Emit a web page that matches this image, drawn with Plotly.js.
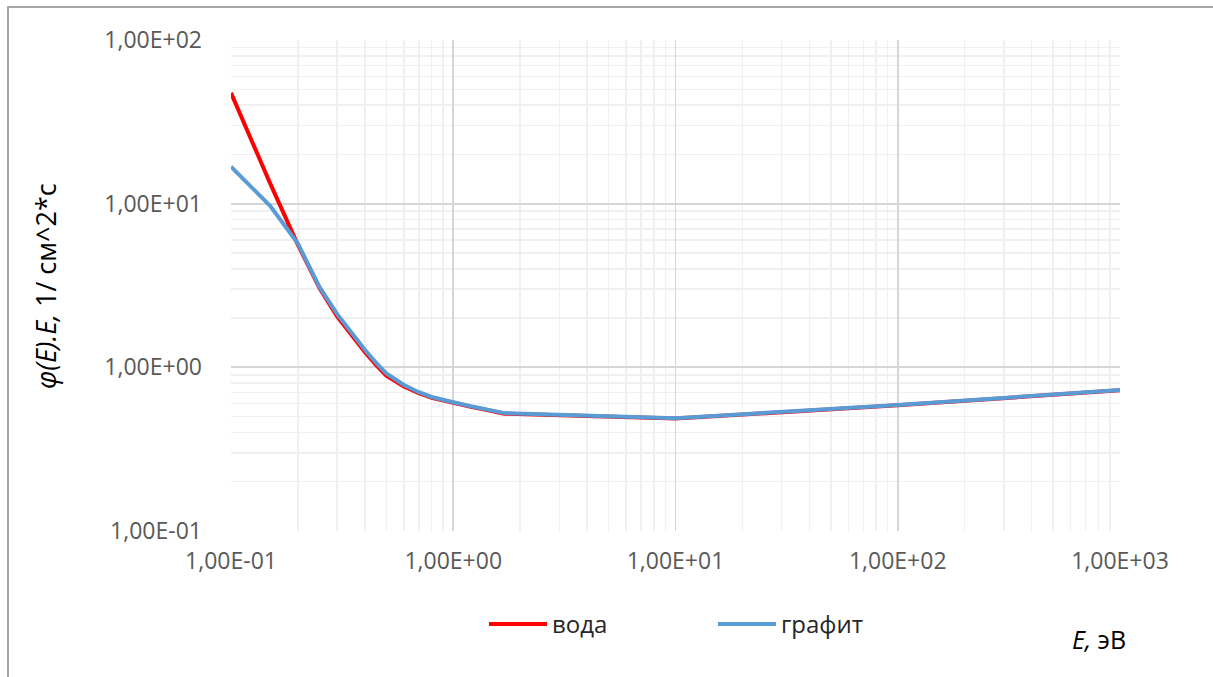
<!DOCTYPE html>
<html>
<head>
<meta charset="utf-8">
<script src="https://cdn.plot.ly/plotly-3.0.1.min.js"></script>
<style>
  html, body { margin: 0; padding: 0; background: #fff; overflow: hidden; }
  #frame { position: absolute; left: 7px; top: 6px; width: 1300px; height: 800px;
           border-left: 2px solid #a6a6a6; border-top: 2px solid #a6a6a6; pointer-events: none; z-index: 5; }
  #chart { position: absolute; left: 0; top: 0; width: 1213px; height: 677px; }
</style>
</head>
<body>
<div id="chart"></div>
<div id="frame"></div>
<script>
// Energy, eV
const energy = [0.1, 0.15, 0.2, 0.25, 0.3, 0.35, 0.4, 0.45, 0.5, 0.6, 0.7, 0.8, 0.9, 1.0, 1.2, 1.4, 1.7, 10, 100, 1000];
// φ(E)·E for water
const water = [47.5, 13.3, 5.6, 3.05, 2.05, 1.55, 1.24, 1.03, 0.89, 0.765, 0.695, 0.652, 0.626, 0.607, 0.574, 0.55, 0.521, 0.486, 0.586, 0.724];
// φ(E)·E for graphite
const graphite = [16.8, 9.7, 5.7, 3.1, 2.12, 1.60, 1.28, 1.064, 0.918, 0.78, 0.705, 0.659, 0.631, 0.612, 0.578, 0.553, 0.525, 0.489, 0.588, 0.726];

const xTickVals = [0.1, 1, 10, 100, 1000];
const xTickText = ['1,00E-01', '1,00E+00', '1,00E+01', '1,00E+02', '1,00E+03'];
const yTickVals = [0.1, 1, 10, 100];
const yTickText = ['1,00E-01', '1,00E+00', '1,00E+01', '1,00E+02'];

const FONT = 'Open Sans, Noto Sans, sans-serif';

const traces = [
  { x: energy, y: water, name: 'вода', type: 'scatter', mode: 'lines',
    line: { color: '#ff0000', width: 4 } },
  { x: energy, y: graphite, name: 'графит', type: 'scatter', mode: 'lines',
    line: { color: '#5b9bd5', width: 4 } }
];

const layout = {
  width: 1213, height: 677,
  margin: { l: 231, r: 93, t: 40, b: 146 },
  paper_bgcolor: 'rgba(0,0,0,0)', plot_bgcolor: '#fff',
  font: { family: FONT, size: 23, color: '#595959' },
  showlegend: true,
  legend: {
    orientation: 'h', x: (484 - 231) / 889, xanchor: 'left', y: -0.19, yanchor: 'middle',
    font: { family: FONT, size: 24, color: '#262626' },
    itemwidth: 58,
    entrywidth: 156, entrywidthmode: 'pixels', bgcolor: 'rgba(0,0,0,0)'
  },
  xaxis: {
    type: 'log', range: [-1, 3],
    tickmode: 'array', tickvals: xTickVals, ticktext: xTickText,
    ticks: '', ticklabelstandoff: 14,
    showgrid: true, gridcolor: '#d6d6d6', gridwidth: 1.8,
    zeroline: false, showline: false,
    minor: { dtick: 'D1', showgrid: true, gridcolor: '#f0f0f0', gridwidth: 1.5, ticks: '' },
    tickfont: { family: FONT, size: 23, color: '#595959' }
  },
  yaxis: {
    type: 'log', range: [-1, 2],
    tickmode: 'array', tickvals: yTickVals, ticktext: yTickText,
    ticks: '', ticklabelstandoff: 28,
    showgrid: true, gridcolor: '#d6d6d6', gridwidth: 1.8,
    zeroline: false, showline: false,
    minor: { dtick: 'D1', showgrid: true, gridcolor: '#f0f0f0', gridwidth: 1.5, ticks: '' },
    tickfont: { family: FONT, size: 23, color: '#595959' }
  },
  annotations: [
    { xref: 'paper', yref: 'paper', x: (45 - 231) / 889, y: (531 - 286) / 491, xanchor: 'center', yanchor: 'middle',
      textangle: -90, showarrow: false,
      text: '<i>φ(E).E,</i> 1/ см^2*с', font: { family: FONT, size: 27, color: '#000' } },
    { xref: 'paper', yref: 'paper', x: (1128 - 231) / 889, y: (531 - 639) / 491, xanchor: 'right', yanchor: 'middle',
      showarrow: false,
      text: '<i>E,</i> эВ', font: { family: FONT, size: 25, color: '#000' } }
  ]
};

Plotly.newPlot('chart', traces, layout, { displayModeBar: false, staticPlot: true });
</script>
</body>
</html>
